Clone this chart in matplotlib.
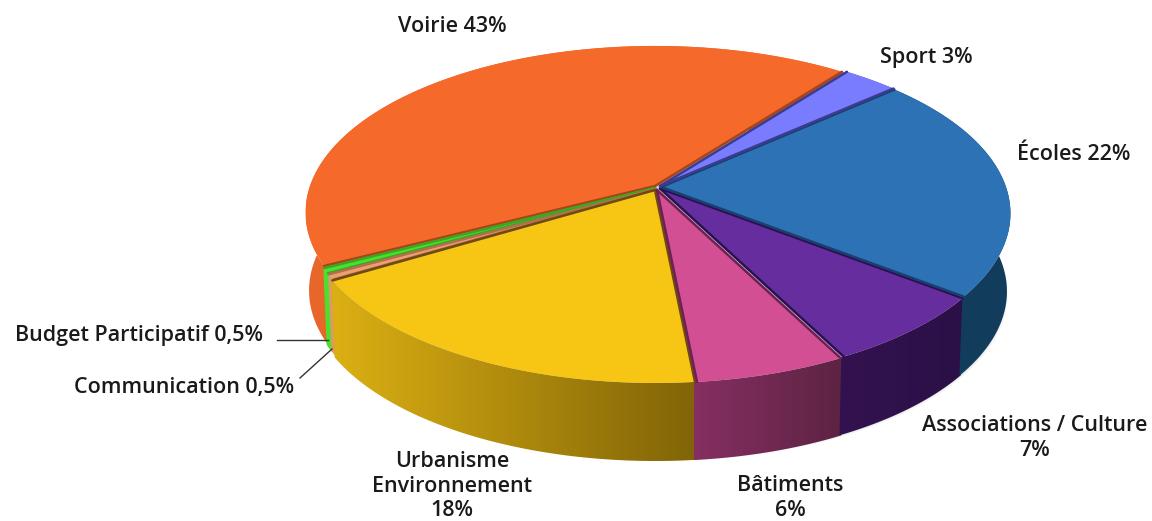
"""Budget split drawn as a faux 3D perspective pie."""

import matplotlib

matplotlib.use("Agg")

import matplotlib.pyplot as plt
import numpy as np
from matplotlib.patches import Polygon

labels = ["Voirie 43%", "Budget Participatif 0,5%", "Communication 0,5%",
          "Urbanisme\nEnvironnement\n18%", "Bâtiments\n6%",
          "Associations / Culture\n7%", "Écoles 22%", "Sport 3%"]
values = [43, 0.5, 0.5, 18, 6, 7, 22, 3]

top_colors = ["#f56a2a", "#4be02f", "#f0a070", "#f7c614", "#d14f92",
              "#662d9e", "#2d72b5", "#7a7cff"]
edge_colors = ["#a8431a", "#3aa820", "#b0704a", "#6e4a10", "#6e1f55",
               "#2a1050", "#1a3f70", "#3a3c90"]
wall_left = ["#e8662a", "#4be02f", "#e09868", "#dcb013", "#862f62",
             "#34124f", "#123c5c", "#5a5cc0"]
wall_right = ["#e8662a", "#4be02f", "#e09868", "#806407", "#5c2342",
              "#2a1046", "#123c5c", "#5a5cc0"]

# small explode of each slice, in pixels
offsets = [(-3, -1), (-3, 1), (-2, 2), (-3, 3), (-1, 3), (2, 1.5), (3, 0), (2, -1)]

START_ANGLE = 52.4
CX, CY = 658, 187
RX = 345
A, K = 162.3, 0.159  # perspective of the tilted disc
DEPTH = 78
BOTTOM_SCALE = 0.99

label_pos = [(452, 27), (139, 335), (184, 387), (452, 486), (790, 498),
             (1035, 438), (1074, 154), (926, 58)]


def project(angle_deg):
    t = np.radians(angle_deg)
    u, v = np.cos(t), -np.sin(t)
    den = 1 - K * v
    return RX * u / den, A * v / den


def gradient_wall(ax, poly_xy, left, right):
    poly = Polygon(poly_xy, closed=True, fc="none", ec="none")
    ax.add_patch(poly)
    x0, x1 = poly_xy[:, 0].min(), poly_xy[:, 0].max()
    y0, y1 = poly_xy[:, 1].min(), poly_xy[:, 1].max()
    c0 = np.array(matplotlib.colors.to_rgb(left))
    c1 = np.array(matplotlib.colors.to_rgb(right))
    ramp = np.linspace(0, 1, 256)[None, :, None]
    img = c0[None, None, :] * (1 - ramp) + c1[None, None, :] * ramp
    im = ax.imshow(img, extent=(x0, x1, y1, y0), aspect="auto", zorder=2,
                   interpolation="bilinear")
    im.set_clip_path(poly)


plt.rcParams["font.family"] = ["Open Sans", "DejaVu Sans"]
fig = plt.figure(figsize=(11.52, 5.21), dpi=100, facecolor="white")
ax = fig.add_axes([0, 0, 1, 1])

spans = np.array(values) / sum(values) * 360
starts = START_ANGLE + np.concatenate([[0], np.cumsum(spans)[:-1]])

# soft shadow under the whole drum
all_t = np.linspace(0, 360, 361)
px, py = project(all_t)
outer = np.column_stack([CX + BOTTOM_SCALE * px, CY + DEPTH + py])
for shift, alpha in zip([6, 4, 2], [0.05, 0.08, 0.12]):
    ax.add_patch(Polygon(outer + [shift * 0.6, shift * 0.5], closed=True,
                         fc="#333333", ec="none", alpha=alpha, zorder=1))

# side walls first, tops go over them
for i, (start, span) in enumerate(zip(starts, spans)):
    # a little overlap so no white shows between neighbouring walls
    t = np.linspace(start - 0.4, start + span + 0.4, max(int(span * 2), 4))
    px, py = project(t)
    dx, dy = offsets[i]
    upper = np.column_stack([CX + dx + px, CY + dy + py])
    lower = np.column_stack([CX + dx + BOTTOM_SCALE * px, CY + dy + py + DEPTH])
    wall = np.vstack([upper, lower[::-1]])
    gradient_wall(ax, wall, wall_left[i], wall_right[i])

for i, (start, span) in enumerate(zip(starts, spans)):
    t = np.linspace(start, start + span, max(int(span * 2), 4))
    px, py = project(t)
    dx, dy = offsets[i]
    apex = np.array([CX + dx, CY + dy])
    arc = np.column_stack([CX + dx + px, CY + dy + py])
    ax.add_patch(Polygon(np.vstack([apex, arc]), closed=True, fc=top_colors[i],
                         ec="none", zorder=3))
    for end in (arc[0], arc[-1]):
        ax.plot([apex[0], end[0]], [apex[1], end[1]], color=edge_colors[i],
                lw=1.8, solid_capstyle="round", zorder=4)

for text, (x, y) in zip(labels, label_pos):
    ax.text(x, y, text, ha="center", va="center", fontsize=15.5,
            fontweight="semibold", color="#1a1a1a", linespacing=1.2, zorder=6)

# leaders for the two thin slices
ax.plot([277, 328], [340, 340], color="#333333", lw=1, zorder=5)
ax.plot([300, 332], [378, 349], color="#333333", lw=1, zorder=5)

ax.set_xlim(0, 1152)
ax.set_ylim(521, 0)
ax.axis("off")
fig.savefig("out.png", dpi=100)
